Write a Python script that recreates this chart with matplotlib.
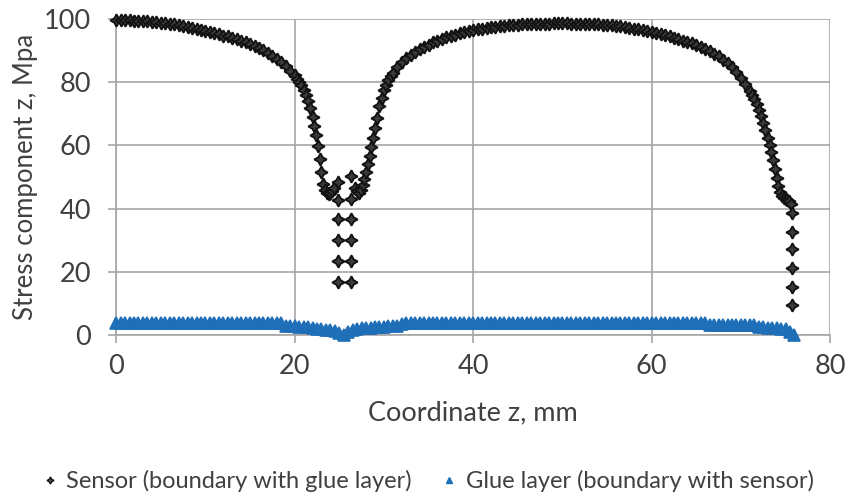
import numpy as np
import matplotlib.pyplot as plt
from matplotlib.lines import Line2D

plt.rcParams['font.family'] = ['Lato', 'DejaVu Sans']

# Sensor, boundary with glue layer: coordinate z (mm) and stress (MPa)
sensor_z = [
    0, 0.5, 1, 1.5, 2, 2.5, 3, 3.5, 4, 4.5, 5, 5.5, 6, 6.5, 7, 7.5, 8, 8.5, 9, 9.5,
    10, 10.5, 11, 11.5, 12, 12.5, 13, 13.5, 14, 14.5, 15, 15.5, 16, 16.5, 17, 17.5,
    18, 18.5, 19, 19.5, 20, 20.25, 20.5, 20.75, 21, 21.25, 21.5, 21.75, 22, 22.2,
    22.4, 22.6, 22.8, 23.0, 23.2, 23.4, 23.6, 23.8, 24.0, 24.2, 24.4,
    24.9, 24.9, 24.9, 24.9, 24.9, 24.9,
    26.3, 26.3, 26.3, 26.3, 26.3, 26.3,
    26.8, 27.0, 27.2, 27.4, 27.6, 27.8, 28.0, 28.2, 28.4, 28.6, 28.8, 29.0, 29.2,
    29.5, 29.75, 30, 30.25, 30.5, 30.75, 31, 31.5, 32, 32.5, 33, 33.5, 34, 34.5,
    35, 35.5, 36, 36.5, 37, 37.5, 38, 38.5, 39, 39.5, 40, 40.5, 41, 41.5, 42, 42.5,
    43, 43.5, 44, 44.5, 45, 45.5, 46, 46.5, 47, 47.5, 48, 48.5, 49, 49.5, 50, 50.5,
    51, 51.5, 52, 52.5, 53, 53.5, 54, 54.5, 55, 55.5, 56, 56.5, 57, 57.5, 58, 58.5,
    59, 59.5, 60, 60.5, 61, 61.5, 62, 62.5, 63, 63.5, 64, 64.5, 65, 65.5, 66, 66.5,
    67, 67.5, 68, 68.5, 69, 69.5, 70, 70.5, 71, 71.25, 71.5, 71.75, 72, 72.25, 72.5,
    72.75, 73, 73.2, 73.4, 73.6, 73.8, 74, 74.2, 74.4, 74.6, 74.8, 75, 75.2, 75.4,
    75.6,
    75.7, 75.7, 75.7, 75.7, 75.7, 75.7,
]
sensor_stress = [
    99.7, 99.7, 99.6, 99.6, 99.5, 99.5, 99.4, 99.3, 99.2, 99.0, 98.9, 98.7, 98.5,
    98.3, 98.0, 97.7, 97.4, 97.1, 96.8, 96.5, 96.2, 95.8, 95.5, 95.2, 94.8, 94.5,
    94.1, 93.6, 93.1, 92.6, 92.0, 91.4, 90.8, 90.2, 89.3, 88.4, 87.4, 86.3, 85.0,
    83.6, 82.2, 81.2, 80.2, 79.0, 77.7, 76.0, 74.0, 71.8, 69.0, 66.3, 63.4, 59.9,
    55.8, 51.5, 47.8, 45.8, 45.0, 44.6, 44.8, 45.6, 46.5,
    48.4, 42.7, 36.7, 30.0, 23.4, 16.8,
    50.3, 43.0, 36.7, 30.0, 23.4, 16.8,
    46.5, 45.5, 45.0, 45.8, 47.5, 49.5, 51.5, 54.0, 56.8, 59.5, 62.5, 65.5, 68.8,
    72.5, 75.0, 77.5, 79.3, 80.8, 82.0, 83.0, 84.8, 86.4, 87.6, 88.6, 89.6, 90.4,
    91.2, 91.9, 92.6, 93.2, 93.7, 94.2, 94.7, 95.1, 95.5, 95.9, 96.2, 96.5, 96.8,
    97.0, 97.2, 97.4, 97.6, 97.7, 97.9, 98.0, 98.1, 98.2, 98.3, 98.4, 98.4, 98.5,
    98.5, 98.6, 98.6, 98.7, 98.7, 98.7, 98.7, 98.6, 98.6, 98.5, 98.5, 98.4, 98.4,
    98.3, 98.2, 98.1, 98.0, 97.8, 97.7, 97.5, 97.3, 97.0, 96.8, 96.5, 96.2, 95.9,
    95.6, 95.2, 94.9, 94.5, 94.1, 93.6, 93.2, 92.8, 92.3, 91.8, 91.2, 90.6, 89.9,
    89.1, 88.2, 87.2, 86.1, 84.8, 83.3, 81.5, 79.5, 77.2, 76.0, 74.6, 73.0, 71.2,
    69.2, 67.1, 64.9, 62.5, 60.3, 58.0, 55.5, 52.5, 49.8, 47.2, 45.2, 44.0, 43.5,
    43.2, 42.8, 42.5, 41.5,
    38.6, 32.6, 27.2, 21.2, 15.2, 9.5,
]

# Glue layer, boundary with sensor: sampled every 0.5 mm from 0 to 76 mm
glue_z = np.arange(0, 76.5, 0.5)
glue_stress = [
    3.9, 3.9, 3.9, 3.9, 3.9, 3.9, 3.9, 3.9, 3.9, 3.9, 3.9, 3.9, 3.9, 3.9, 3.9, 3.9,
    3.9, 3.9, 3.9, 3.9, 3.9, 3.9, 3.9, 3.9, 3.9, 3.9, 3.9, 3.9, 3.9, 3.9, 3.9, 3.9,
    3.9, 3.9, 3.9, 3.9, 3.9, 3.9,
    3.0, 2.8, 2.7, 2.6, 2.5, 2.4, 2.2, 2.0,
    1.8, 1.7, 1.5, 1.2, 0.6,
    0.0,
    0.8, 1.6, 1.9,
    2.1, 2.2, 2.3, 2.4, 2.5, 2.6, 2.7, 2.8, 3.0,
    3.5, 3.8,
    3.9, 3.9, 3.9, 3.9, 3.9, 3.9, 3.9, 3.9, 3.9, 3.9, 3.9, 3.9, 3.9, 3.9, 3.9, 3.9,
    3.9, 3.9, 3.9, 3.9, 3.9, 3.9, 3.9, 3.9, 3.9, 3.9, 3.9, 3.9, 3.9, 3.9, 3.9, 3.9,
    3.9, 3.9, 3.9, 3.9, 3.9, 3.9, 3.9, 3.9, 3.9, 3.9, 3.9, 3.9, 3.9, 3.9, 3.9, 3.9,
    3.9, 3.9, 3.9, 3.9, 3.9, 3.9, 3.9, 3.9, 3.9, 3.9, 3.9, 3.9, 3.9, 3.9, 3.9, 3.9,
    3.9, 3.9, 3.9,
    3.3, 3.3, 3.3, 3.3, 3.3, 3.3, 3.3, 3.3, 3.3, 3.3, 3.3,
    2.5, 2.4, 2.3, 2.2, 2.1, 2.0, 1.8,
    1.0, 0.1,
]

x_ticks = [0, 20, 40, 60, 80]
y_ticks = [0, 20, 40, 60, 80, 100]

grid_col = '#a6a6a6'
text_col = '#404040'
glue_col = '#1f6fb8'

fig = plt.figure(figsize=(8.48, 5.03), dpi=100)
ax = fig.add_axes([0.137, 0.334, 0.842, 0.628])

ax.plot(glue_z, glue_stress, linestyle='none', marker='^', markersize=9,
        color=glue_col, markeredgecolor=glue_col, markeredgewidth=1.2,
        clip_on=False, zorder=3)
ax.plot(sensor_z, sensor_stress, linestyle='none', marker=(4, 1, 0), markersize=9,
        markerfacecolor='#3a3a3a', markeredgecolor='#111111', markeredgewidth=1.3,
        clip_on=False, zorder=4)

ax.set_xlim(0, 80)
ax.set_ylim(0, 100)
ax.set_xticks(x_ticks)
ax.set_yticks(y_ticks)
ax.grid(True, color=grid_col, linewidth=1.2)
ax.set_axisbelow(True)
for side in ['top', 'right']:
    ax.spines[side].set_visible(False)
for side in ['left', 'bottom']:
    ax.spines[side].set_color(grid_col)
    ax.spines[side].set_linewidth(1.2)
ax.tick_params(axis='both', direction='out', length=6, width=1.2, color=grid_col,
               labelcolor=text_col, labelsize=19.5)
ax.tick_params(axis='y', pad=12)
ax.tick_params(axis='x', pad=8)

ax.set_xlabel('Coordinate z, mm', fontsize=19.5, color=text_col, labelpad=15)
ax.set_ylabel('Stress component z, Mpa', fontsize=18.5, color=text_col, labelpad=4)

handles = [
    Line2D([], [], linestyle='none', marker=(4, 1, 0), markersize=5,
           markerfacecolor='#555555', markeredgecolor='#111111'),
    Line2D([], [], linestyle='none', marker='^', markersize=4, color=glue_col),
]
fig.legend(handles, ['Sensor (boundary with glue layer)', 'Glue layer (boundary with sensor)'],
           loc='center', bbox_to_anchor=(0.505, 0.044), ncol=2, frameon=False,
           fontsize=17, handlelength=0.6, handletextpad=0.4, columnspacing=1.3,
           labelcolor=text_col)

fig.savefig('out.png', dpi=100)
